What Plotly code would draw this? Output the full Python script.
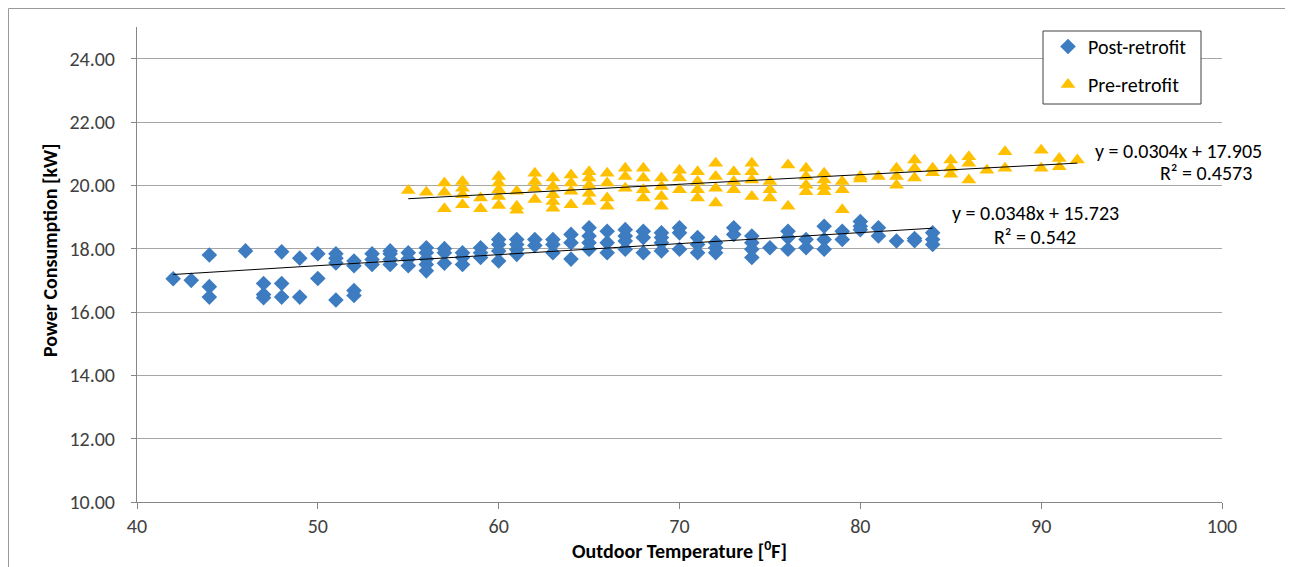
import plotly.graph_objects as go

# ---- data ----
post_temp = [42, 43, 44, 44, 44, 46, 47, 47, 47, 48, 48, 48, 49, 49, 50, 50,
             51, 51, 51, 51, 52, 52, 52, 52, 53, 53, 53, 54, 54, 54, 54,
             55, 55, 55, 56, 56, 56, 56, 56, 57, 57, 57, 58, 58, 58, 59, 59, 59,
             60, 60, 60, 60, 61, 61, 61, 61, 62, 62, 63, 63, 63, 64, 64, 64,
             65, 65, 65, 65, 66, 66, 66, 67, 67, 67, 67, 68, 68, 68,
             69, 69, 69, 69, 70, 70, 70, 71, 71, 71, 72, 72, 72, 73, 73,
             74, 74, 74, 74, 75, 76, 76, 76, 77, 77, 78, 78, 78, 79, 79,
             80, 80, 80, 81, 81, 82, 83, 83, 84, 84, 84]
post_power = [17.05, 17.0, 17.8, 16.8, 16.47, 17.93, 16.9, 16.55, 16.45, 17.9, 16.9, 16.47,
              17.7, 16.47, 17.84, 17.06,
              17.84, 17.7, 17.55, 16.38, 17.61, 17.46, 16.68, 16.52, 17.84, 17.66, 17.5,
              17.93, 17.84, 17.66, 17.5,
              17.87, 17.67, 17.46, 18.03, 17.87, 17.67, 17.5, 17.3, 18.0, 17.87, 17.54,
              17.87, 17.72, 17.5, 18.03, 17.87, 17.72,
              18.29, 18.13, 17.93, 17.61, 18.29, 18.13, 17.97, 17.82, 18.29, 18.1,
              18.29, 18.13, 17.87, 18.45, 18.19, 17.67,
              18.66, 18.4, 18.19, 17.98, 18.55, 18.19, 17.87, 18.6, 18.4, 18.24, 17.98,
              18.55, 18.35, 17.87,
              18.5, 18.35, 18.19, 17.93, 18.66, 18.5, 17.98, 18.35, 18.13, 17.87,
              18.19, 18.03, 17.87, 18.66, 18.45,
              18.4, 18.19, 17.98, 17.72, 18.03, 18.55, 18.35, 17.98, 18.29, 18.03,
              18.71, 18.29, 17.98, 18.55, 18.29,
              18.86, 18.71, 18.6, 18.66, 18.4, 18.24, 18.32, 18.25, 18.5, 18.29, 18.13]

pre_temp = [55, 56, 57, 57, 57, 58, 58, 58, 58, 59, 59,
            60, 60, 60, 60, 60, 61, 61, 61, 62, 62, 62, 62,
            63, 63, 63, 63, 63, 64, 64, 64, 64, 65, 65, 65, 65, 65,
            66, 66, 66, 66, 67, 67, 67, 68, 68, 68, 68, 69, 69, 69, 69,
            70, 70, 70, 71, 71, 71, 71, 72, 72, 72, 72, 73, 73, 73,
            74, 74, 74, 74, 75, 75, 75, 76, 76, 77, 77, 77, 77, 78, 78, 78, 78,
            79, 79, 79, 80, 80, 81, 82, 82, 82, 83, 83, 83, 84, 84,
            85, 85, 85, 86, 86, 86, 87, 88, 88, 90, 90, 91, 91, 92]
pre_power = [19.84, 19.78, 20.07, 19.78, 19.26, 20.12, 19.91, 19.7, 19.39, 19.6, 19.26,
             20.28, 20.07, 19.86, 19.65, 19.36, 19.81, 19.34, 19.21, 20.38, 20.12, 19.91, 19.55,
             20.23, 19.96, 19.7, 19.49, 19.28, 20.33, 20.07, 19.81, 19.39,
             20.43, 20.23, 20.0, 19.75, 19.49,
             20.38, 20.07, 19.6, 19.34, 20.54, 20.28, 19.91, 20.54, 20.23, 19.86, 19.6,
             20.23, 19.96, 19.65, 19.34,
             20.48, 20.23, 19.86, 20.43, 20.12, 19.86, 19.6, 20.7, 20.28, 19.91, 19.44,
             20.43, 20.12, 19.86,
             20.7, 20.43, 20.17, 19.65, 20.12, 19.86, 19.6, 20.64, 19.34,
             20.54, 20.28, 20.0, 19.8, 20.38, 20.17, 19.96, 19.8,
             20.12, 19.86, 19.23, 20.28, 20.2, 20.28, 20.54, 20.28, 20.0,
             20.8, 20.54, 20.23, 20.54, 20.4,
             20.8, 20.55, 20.35, 20.9, 20.7, 20.17, 20.48, 21.06, 20.54,
             21.11, 20.54, 20.85, 20.59, 20.8]

# trendline coefficients (as printed on the chart)
post_slope, post_icpt = 0.0348, 15.723
pre_slope, pre_icpt = 0.0304, 17.905
post_fit_x = [42, 84]
pre_fit_x = [55, 92]

x_ticks = [40, 50, 60, 70, 80, 90, 100]
y_ticks = [10, 12, 14, 16, 18, 20, 22, 24]

FONT = "Carlito, Lato, 'Liberation Sans', sans-serif"
FS = 20
BLUE = "#3D7CC0"
GOLD = "#FFC000"

fig = go.Figure()

fig.add_trace(go.Scatter(
    x=post_temp, y=post_power, mode="markers", name="Post-retrofit",
    legendgroup="post",
    marker=dict(symbol="diamond", size=12, color=BLUE, line=dict(width=0)),
))
fig.add_trace(go.Scatter(
    x=pre_temp, y=pre_power, mode="markers", name="Pre-retrofit",
    legendgroup="pre",
    marker=dict(symbol="triangle-up", size=13, color=GOLD, line=dict(width=0)),
))
fig.add_trace(go.Scatter(
    x=post_fit_x, y=[post_slope * v + post_icpt for v in post_fit_x],
    mode="lines", line=dict(color="black", width=1), showlegend=False,
    hoverinfo="skip",
))
fig.add_trace(go.Scatter(
    x=pre_fit_x, y=[pre_slope * v + pre_icpt for v in pre_fit_x],
    mode="lines", line=dict(color="black", width=1), showlegend=False,
    hoverinfo="skip",
))

# page has an 8px body margin: figure origin sits at (8, 8) in the window
OFF = 8
W, H = 1293 - OFF, 567 - OFF
PL, PR, PT, PB = 137, 1222, 27, 502          # plot area in window pixels
L, T = PL - OFF, PT - OFF
R = (OFF + W) - PR
B = (OFF + H) - PB
pw, ph = PR - PL, PB - PT


def px(xp):
    return (xp - PL) / pw


def py(yp):
    return (PB - yp) / ph


annos = [
    dict(text="y = 0.0304x + 17.905", x=px(1264), y=py(151), xanchor="right"),
    dict(text="R² = 0.4573", x=px(1254), y=py(173), xanchor="right"),
    dict(text="y = 0.0348x + 15.723", x=px(1035), y=py(213), xanchor="center"),
    dict(text="R² = 0.542", x=px(1035), y=py(237), xanchor="center"),
    dict(text="<b>Outdoor Temperature [<sup>0</sup>F]</b>", x=px(679), y=py(550),
         xanchor="center"),
    dict(text="<b>Power Consumption [kW]</b>", x=px(50), y=py(250), xanchor="center",
         textangle=-90),
]
annotations = []
for a in annos:
    a.update(xref="paper", yref="paper", yanchor="middle", showarrow=False,
             font=dict(family=FONT, size=FS, color="#000000"))
    annotations.append(a)

fig.update_layout(
    width=W, height=H,
    margin=dict(l=L, r=R, t=T, b=B),
    paper_bgcolor="white", plot_bgcolor="white",
    font=dict(family=FONT, size=FS, color="#404040"),
    showlegend=True,
    legend=dict(
        x=px(1048), y=py(27), xanchor="left", yanchor="top",
        bgcolor="rgba(0,0,0,0)", borderwidth=0,
        font=dict(family=FONT, size=FS, color="#000000"),
        traceorder="grouped", tracegroupgap=9,
        itemwidth=30,
    ),
    annotations=annotations,
    shapes=[
        dict(type="rect", xref="paper", yref="paper",
             x0=px(OFF + 0.5), x1=px(1288), y0=py(600), y1=py(OFF + 0.5),
             line=dict(color="#9a9a9a", width=1), fillcolor="rgba(0,0,0,0)",
             layer="below"),
        dict(type="rect", xref="paper", yref="paper",
             x0=px(1043), x1=px(1201), y0=py(104), y1=py(31),
             line=dict(color="#404040", width=1), fillcolor="white",
             layer="above"),
    ],
)

fig.update_xaxes(
    range=[40, 100], tickvals=x_ticks, showgrid=False, zeroline=False,
    showline=True, linecolor="#868686", linewidth=1,
    ticks="outside", ticklen=6, tickcolor="#868686",
    tickfont=dict(family=FONT, size=FS, color="#404040"),
)
fig.update_yaxes(
    range=[10, 25], tickvals=y_ticks, ticktext=[f"{v:.2f}" for v in y_ticks],
    showgrid=True, gridcolor="#a6a6a6", gridwidth=1, zeroline=False,
    showline=True, linecolor="#868686", linewidth=1,
    ticks="outside", ticklen=5, tickcolor="#868686",
    tickfont=dict(family=FONT, size=FS, color="#404040"),
    ticklabelstandoff=12,
)

fig.write_html("out.html")
